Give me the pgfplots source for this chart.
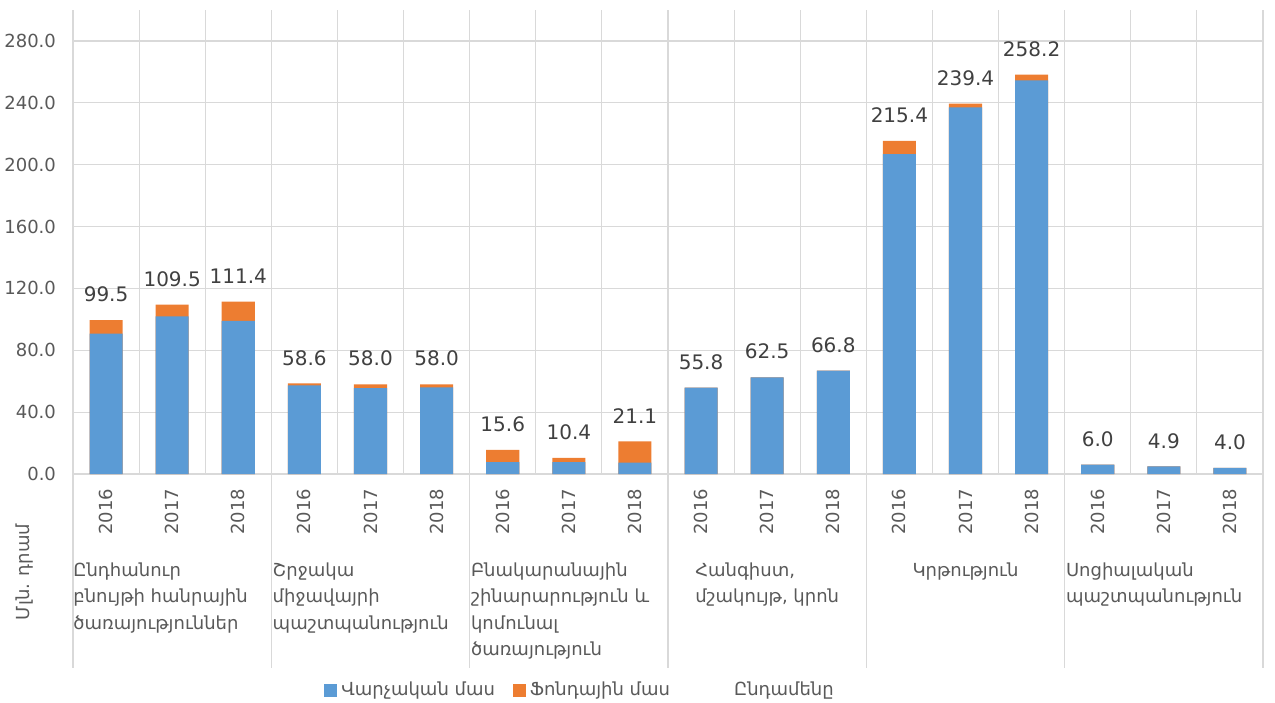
\documentclass[border=0pt]{standalone}
\usepackage{fontspec}
\setmainfont{DejaVu Sans}
\usepackage{pgfplots}
\pgfplotsset{compat=1.18}
\usepackage{pgfplotstable}

\definecolor{cblue}{HTML}{5B9BD5}
\definecolor{corange}{HTML}{ED7D31}
\definecolor{cgrid}{HTML}{D9D9D9}
\definecolor{ctext}{HTML}{595959}
\definecolor{clabel}{HTML}{404040}

\pgfplotstableread{
x adm fund total
0 90.8 8.7 99.5
1 101.9 7.6 109.5
2 99.0 12.4 111.4
3 57.3 1.3 58.6
4 55.6 2.4 58.0
5 56.0 2.0 58.0
6 7.6 8.0 15.6
7 7.6 2.8 10.4
8 7.4 13.7 21.1
9 55.8 0 55.8
10 62.5 0 62.5
11 66.8 0 66.8
12 206.8 8.6 215.4
13 237.0 2.4 239.4
14 254.5 3.7 258.2
15 6.0 0 6.0
16 4.9 0 4.9
17 4.0 0 4.0
}\datatable

\begin{document}
\begin{tikzpicture}[font=\fontsize{9}{13.3}\selectfont]
\begin{axis}[
  at={(0,0)}, anchor=south west,
  scale only axis, width=595pt, height=232pt,
  xmin=-0.5, xmax=17.5, ymin=0, ymax=300,
  xtick={0,...,17},
  xticklabels={2016,2017,2018,2016,2017,2018,2016,2017,2018,2016,2017,2018,2016,2017,2018,2016,2017,2018},
  xticklabel style={rotate=90, anchor=east, text=ctext},
  xticklabel shift=4pt,
  minor xtick={-0.5,0.5,...,17.5},
  xminorgrids, minor grid style={cgrid, line width=0.6pt},
  ytick={0,40,...,280},
  ymajorgrids, major grid style={cgrid, line width=0.6pt},
  yticklabel style={text=ctext},
  yticklabel shift=5pt,
  /pgf/number format/.cd, fixed, fixed zerofill, precision=1, assume math mode=true,
  /pgfplots/.cd,
  tick style={draw=none},
  axis line style={draw=none},
  clip=false,
  legend columns=3,
  legend style={at={(0.427,-0.466)}, anchor=center, draw=none, fill=none,
    text=ctext, font=\fontsize{9}{11}\selectfont,
    /tikz/every even column/.append style={column sep=7pt}},
  legend cell align=left,
]
\addlegendimage{legend image code/.code={\fill[cblue] (0pt,-3pt) rectangle (6pt,3pt);}}
\addlegendentry{Վարչական մաս}
\addlegendimage{legend image code/.code={\fill[corange] (0pt,-3pt) rectangle (6pt,3pt);}}
\addlegendentry{Ֆոնդային մաս}
% orange segment sits on top of the blue one: drawn as adm+fund, then blue over it
\addplot[ybar, bar width=0.5, bar shift=0pt, draw=none, fill=corange, forget plot]
  table[x=x, y expr=\thisrow{adm}+\thisrow{fund}] {\datatable};
\addplot[ybar, bar width=0.5, bar shift=0pt, draw=none, fill=cblue, forget plot]
  table[x=x, y=adm] {\datatable};
\addplot[draw=none, mark=none,
  nodes near coords, point meta=explicit,
  every node near coord/.append style={text=clabel, font=\fontsize{10}{12}\selectfont, yshift=5.5pt},
  nodes near coords={\pgfmathprintnumber[fixed, fixed zerofill, precision=1, assume math mode=true]{\pgfplotspointmeta}},
  legend image code/.code={\path (0pt,-3pt) rectangle (21pt,3pt);}]
  table[x=x, y=total, meta=total] {\datatable};
\addlegendentry{Ընդամենը}

\foreach \b in {-0.5,2.5,5.5,8.5,11.5,14.5,17.5}{
  \edef\temp{\noexpand\draw[cgrid, line width=0.6pt] (axis cs:\b,0) -- ([yshift=-97pt]axis cs:\b,0);}
  \temp
}
\node[anchor=north west, align=left, text=ctext, inner sep=0pt] at ([xshift=0pt, yshift=-44pt]axis cs:-0.5,0) {Ընդհանուր\\բնույթի հանրային\\ծառայություններ};
\node[anchor=north west, align=left, text=ctext, inner sep=0pt] at ([xshift=0.5pt, yshift=-44pt]axis cs:2.5,0) {Շրջակա\\միջավայրի\\պաշտպանություն};
\node[anchor=north west, align=left, text=ctext, inner sep=0pt] at ([xshift=0.5pt, yshift=-44pt]axis cs:5.5,0) {Բնակարանային\\շինարարություն և\\կոմունալ\\ծառայություն};
\node[anchor=north, align=left, text=ctext, inner sep=0pt] at ([yshift=-44pt]axis cs:10,0) {Հանգիստ,\\մշակույթ, կրոն};
\node[anchor=north, align=left, text=ctext, inner sep=0pt] at ([yshift=-44pt]axis cs:13,0) {Կրթություն};
\node[anchor=north west, align=left, text=ctext, inner sep=0pt] at ([xshift=0.5pt, yshift=-44pt]axis cs:14.5,0) {Սոցիալական\\պաշտպանություն};
\node[rotate=90, text=ctext] at ([xshift=-24pt, yshift=-49pt]axis cs:-0.5,0) {Մլն. դրամ};
\end{axis}
\pgfresetboundingbox
\path[use as bounding box] (-36.5pt,-114pt) rectangle (601pt,237pt);
\end{tikzpicture}
\end{document}
